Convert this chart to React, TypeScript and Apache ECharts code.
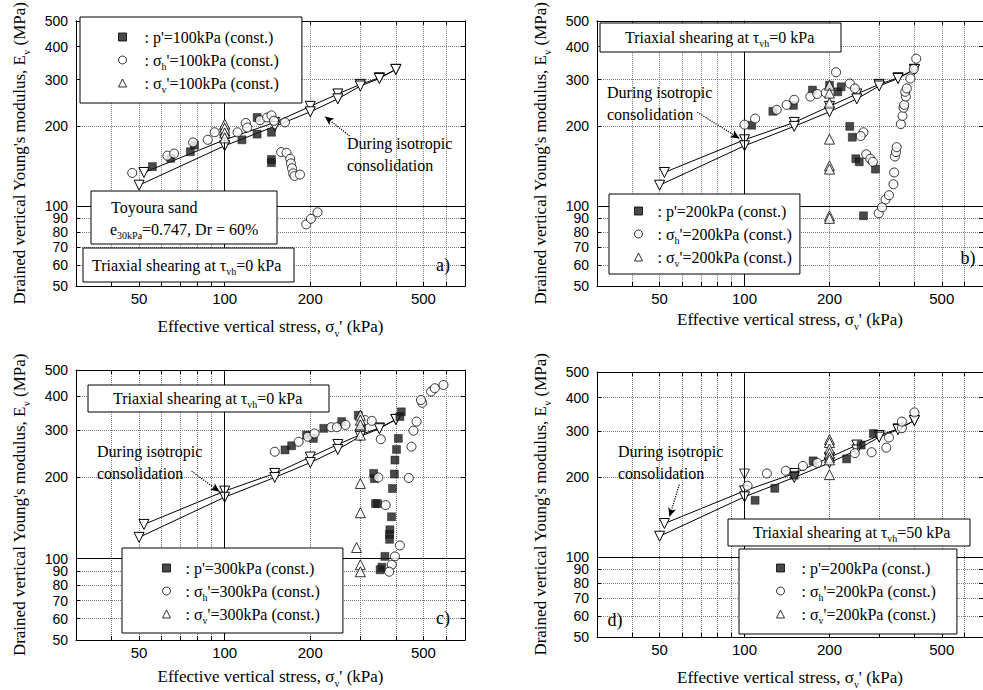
import React, { useEffect, useRef } from 'react';
import * as echarts from 'echarts';

// ---------- axis ticks ----------
const X_MIN = 30;
const X_MAX = 700;
const Y_MIN = 50;
const Y_MAX = 500;
const xTickValues = [30, 40, 50, 60, 70, 80, 90, 100, 200, 300, 400, 500, 600, 700];
const xLabelValues = [50, 100, 200, 500];
const yTickValues = [50, 60, 70, 80, 90, 100, 200, 300, 400, 500];
const yLabelValues = [50, 60, 70, 80, 90, 100, 200, 300, 400, 500];

// ---------- isotropic consolidation (same in every panel) ----------
const consolUpper = [[52, 134], [100, 178], [150, 207], [200, 238], [250, 265], [300, 288], [350, 305], [400, 328]];
const consolLower = [[50, 120], [100, 169], [150, 200], [200, 227], [250, 254], [300, 284], [350, 303], [400, 328]];

// ---------- panel a (100 kPa) ----------
const aSquares = [[55.7, 141], [64.6, 151.5], [75.7, 160.5], [78.3, 170], [115, 178], [130, 187], [130, 216], [146, 190], [146, 150], [146, 146]];
const aCircles = [[47.3, 133.5], [62.9, 155], [66.4, 158], [77.4, 174], [87.2, 178], [92.2, 190], [100, 195], [111, 190], [118.6, 206], [120, 198], [133, 211], [141, 216], [146, 220], [149, 210], [163, 207], [158, 160], [165, 159], [170, 151], [171, 145], [172.5, 139], [174, 133], [176, 130], [184, 131.6], [193.5, 85.4], [201, 89.6], [212, 94.8]];
const aTriangles = [[100, 204], [100, 197], [100, 189], [100, 181]];

// ---------- panel b (200 kPa, tau=0) ----------
const bSquares = [[106, 202], [126, 228], [149, 240], [174, 274], [200, 286], [214, 270], [220, 282], [236, 200], [241, 182], [248, 151], [255, 147], [291, 138], [264, 92]];
const bCircles = [[100, 203], [109, 214], [130, 231], [141, 241], [150, 252], [171, 259], [181, 265], [194, 268], [211, 320], [236, 290], [246, 278], [264, 190], [258, 184], [270, 157], [279, 151], [285, 147], [299, 94], [307, 99], [316, 106], [325, 110], [337, 121], [339, 134], [341, 154], [344, 160], [346, 167], [358, 204], [363, 219], [366, 235], [368, 241], [373, 259], [371, 270], [376, 278], [387, 303], [398, 329], [406, 360]];
const bTriangles = [[200, 286], [200, 267], [200, 245], [200, 179], [200, 142], [200, 138], [200, 92], [200, 90]];

// ---------- panel c (300 kPa) ----------
const cSquares = [[163, 253], [172, 262], [194, 287], [205, 279], [223, 304], [258, 322], [295, 340], [303, 313], [418, 350], [413, 336], [408, 279], [402, 254], [397, 232], [395, 206], [389, 182], [386, 143], [381, 128], [380, 123], [380, 118], [334, 207], [336, 198], [339, 160], [345, 160], [366, 102], [357, 93], [352, 91]];
const cCircles = [[150, 249], [182, 271], [196, 283], [207, 291], [237, 307], [248, 307], [266, 313], [312, 326], [329, 324], [354, 277], [347, 200], [368, 158], [413, 112], [397, 102], [387, 95], [379, 89.5], [444, 199], [454, 260], [461, 298], [473, 322], [495, 378], [490, 387], [532, 416], [548, 428], [588, 440]];
const cTriangles = [[300, 340], [300, 326], [300, 313], [300, 287], [300, 190], [300, 148], [291, 110], [300, 95], [300, 89.5]];

// ---------- panel d (200 kPa, tau=50) ----------
const dSquares = [[109, 164], [128, 182], [150, 204], [175, 231], [230, 235], [259, 265], [286, 293]];
const dCircles = [[102.5, 186], [120, 207], [140, 212], [161, 221], [181, 227], [246, 247], [282, 249], [318, 259], [325, 283], [361, 307], [361, 325], [400, 352]];
const dTriangles = [[200, 278], [200, 271], [200, 256], [200, 247], [200, 238], [200, 233], [200, 205]];
const dExtraDown = [[100, 206]];

// ---------- arrows (data coords: tail, head) ----------
const arrowA = [[275, 184], [225, 218]];
const arrowB = [[68, 226], [96, 180]];
const arrowC = [[76.5, 211], [96, 177]];
const arrowD = [[58.7, 188], [54.2, 142]];

const SERIF = 'Liberation Serif';
const SANS = 'Liberation Sans';
const SUB = { fontSize: 10, fontFamily: SERIF, color: '#000', verticalAlign: 'bottom', lineHeight: 10 } as any;

const panels = [
  {
    key: 'a', stress: '100', grid: { left: 76, top: 14, width: 389, height: 272 }, xGap: 28,
    squares: aSquares, circles: aCircles, triangles: aTriangles, arrow: arrowA, extraDown: [] as number[][],
    legend: { left: 80, top: 17, padding: [9, 23, 9, 38], textPad: 13 },
  },
  {
    key: 'b', stress: '200', grid: { left: 597, top: 14, width: 387, height: 272 }, xGap: 21,
    squares: bSquares, circles: bCircles, triangles: bTriangles, arrow: arrowB, extraDown: [] as number[][],
    legend: { left: 609, top: 194, padding: [6, 8, 6, 25], textPad: 10 },
  },
  {
    key: 'c', stress: '300', grid: { left: 76, top: 370, width: 389, height: 270 }, xGap: 24,
    squares: cSquares, circles: cCircles, triangles: cTriangles, arrow: arrowC, extraDown: [] as number[][],
    legend: { left: 122, top: 548, padding: [9, 23, 8, 40], textPad: 10 },
  },
  {
    key: 'd', stress: '200', grid: { left: 597, top: 372, width: 387, height: 271 }, xGap: 28,
    squares: dSquares, circles: dCircles, triangles: dTriangles, arrow: arrowD, extraDown: dExtraDown,
    legend: { left: 739, top: 549, padding: [8, 21, 9, 37], textPad: 12 },
  },
];

const legendLabels: Record<string, string> = {};
panels.forEach((p) => {
  legendLabels[p.key + '-p'] = ": p'=" + p.stress + 'kPa (const.)';
  legendLabels[p.key + '-h'] = ': σ{sub|h}\'=' + p.stress + 'kPa (const.)';
  legendLabels[p.key + '-v'] = ': σ{sub|v}\'=' + p.stress + 'kPa (const.)';
});

function buildOption() {
  const grid: any[] = [];
  const xAxis: any[] = [];
  const yAxis: any[] = [];
  const series: any[] = [];
  const legend: any[] = [];

  panels.forEach((p, i) => {
    grid.push({ ...p.grid, containLabel: false });
    const tickStyle = { color: '#000', width: 1 };
    xAxis.push({
      gridIndex: i, type: 'log', logBase: 10, min: X_MIN, max: X_MAX, position: 'bottom',
      axisLine: { show: true, lineStyle: { color: '#000', width: 1 } },
      axisTick: { show: true, inside: true, length: 4, customValues: xTickValues, lineStyle: tickStyle },
      axisLabel: { customValues: xLabelValues, fontFamily: SANS, fontSize: 15, color: '#000', margin: 5 },
      splitLine: { show: true, lineStyle: { type: 'dotted', color: '#7a7a7a', width: 1 } },
      name: 'Effective vertical stress, σ{sub|v}\' (kPa)', nameLocation: 'middle', nameGap: p.xGap,
      nameTextStyle: { fontFamily: SERIF, fontSize: 17, color: '#000', lineHeight: 24, rich: { sub: SUB } },
    });
    xAxis.push({
      gridIndex: i, type: 'log', logBase: 10, min: X_MIN, max: X_MAX, position: 'top',
      axisLine: { show: true, lineStyle: { color: '#000', width: 1 } },
      axisTick: { show: true, inside: true, length: 4, customValues: xTickValues, lineStyle: tickStyle },
      axisLabel: { show: false }, splitLine: { show: false },
    });
    yAxis.push({
      gridIndex: i, type: 'log', logBase: 10, min: Y_MIN, max: Y_MAX, position: 'left',
      axisLine: { show: true, lineStyle: { color: '#000', width: 1 } },
      axisTick: { show: true, inside: true, length: 4, customValues: yTickValues, lineStyle: tickStyle },
      axisLabel: { customValues: yLabelValues, fontFamily: SANS, fontSize: 14, color: '#000', margin: 8 },
      splitLine: { show: true, lineStyle: { type: 'dotted', color: '#7a7a7a', width: 1 } },
      name: "Drained vertical Young's modulus, E{sub|v} (MPa)", nameLocation: 'middle', nameGap: 45,
      nameTextStyle: { fontFamily: SERIF, fontSize: 17, color: '#000', lineHeight: 24, rich: { sub: SUB } },
    });
    yAxis.push({
      gridIndex: i, type: 'log', logBase: 10, min: Y_MIN, max: Y_MAX, position: 'right',
      axisLine: { show: true, lineStyle: { color: '#000', width: 1 } },
      axisTick: { show: true, inside: true, length: 4, customValues: yTickValues, lineStyle: tickStyle },
      axisLabel: { show: false }, splitLine: { show: false },
    });
    const xi = 2 * i;
    const yi = 2 * i;
    const downTri = {
      symbol: 'triangle', symbolRotate: 180, symbolSize: 10,
      itemStyle: { color: '#fff', borderColor: '#000', borderWidth: 1 },
    };
    series.push({
      name: p.key + '-consU', type: 'line', xAxisIndex: xi, yAxisIndex: yi, data: consolUpper,
      ...downTri, lineStyle: { color: '#000', width: 1 }, z: 3,
      markLine: {
        silent: true, symbol: 'none', animation: false, label: { show: false },
        data: [
          { xAxis: 100, lineStyle: { color: '#000', width: 1, type: 'solid' } },
          { yAxis: 100, lineStyle: { color: '#000', width: 1, type: 'solid' } },
          [
            { coord: p.arrow[0], symbol: 'none', lineStyle: { color: '#000', width: 1.2, type: 'dotted' } },
            { coord: p.arrow[1], symbol: 'arrow', symbolSize: [6, 9] },
          ],
        ],
      },
    });
    series.push({
      name: p.key + '-consL', type: 'line', xAxisIndex: xi, yAxisIndex: yi, data: consolLower,
      ...downTri, lineStyle: { color: '#000', width: 1 }, z: 3,
    });
    if (p.extraDown.length) {
      series.push({ name: p.key + '-extra', type: 'scatter', xAxisIndex: xi, yAxisIndex: yi, data: p.extraDown, ...downTri, z: 4 });
    }
    series.push({
      name: p.key + '-p', type: 'scatter', xAxisIndex: xi, yAxisIndex: yi, data: p.squares,
      symbol: 'rect', symbolSize: 8, itemStyle: { color: '#1c1c1c', borderColor: '#000', borderWidth: 0.5 }, z: 5,
    });
    series.push({
      name: p.key + '-h', type: 'scatter', xAxisIndex: xi, yAxisIndex: yi, data: p.circles,
      symbol: 'circle', symbolSize: 9, itemStyle: { color: '#fff', borderColor: '#000', borderWidth: 1 }, z: 5,
    });
    series.push({
      name: p.key + '-v', type: 'scatter', xAxisIndex: xi, yAxisIndex: yi, data: p.triangles,
      symbol: 'triangle', symbolSize: 10, itemStyle: { color: '#fff', borderColor: '#000', borderWidth: 1 }, z: 5,
    });
    legend.push({
      data: [p.key + '-p', p.key + '-h', p.key + '-v'],
      orient: 'vertical', left: p.legend.left, top: p.legend.top, padding: p.legend.padding,
      itemGap: 1, itemWidth: 8, itemHeight: 8, selectedMode: false,
      backgroundColor: '#fff', borderColor: '#000', borderWidth: 1,
      itemStyle: { borderWidth: 1 },
      formatter: (name: string) => legendLabels[name],
      textStyle: {
        fontFamily: SERIF, fontSize: 16, color: '#000', lineHeight: 22, padding: [0, 0, 0, p.legend.textPad],
        rich: { sub: SUB },
      },
      z: 20,
    });
  });

  const txt = (x: number, y: number, text: string, extra: any = {}) => ({
    type: 'text', x, y, z: 60,
    style: {
      text, fontFamily: SERIF, fontSize: 16, fill: '#000', align: 'left', verticalAlign: 'middle',
      lineHeight: 22, rich: { sub: SUB }, ...extra,
    },
  });
  const box = (x: number, y: number, w: number, h: number) => ({
    type: 'rect', z: 55, shape: { x, y, width: w, height: h },
    style: { fill: '#fff', stroke: '#000', lineWidth: 1 },
  });

  const graphic = [
    // panel a
    box(91, 191, 186, 53),
    txt(111, 207, 'Toyoura sand'),
    txt(110, 229, 'e{sub|30kPa}=0.747, Dr = 60%'),
    box(83, 248, 211, 34),
    txt(92, 265, 'Triaxial shearing at τ{sub|vh}=0 kPa'),
    txt(443, 265, 'a)', { align: 'center', fontSize: 18 }),
    txt(347, 143, 'During isotropic'),
    txt(347, 165, 'consolidation'),
    // panel b
    box(600, 23, 241, 29),
    txt(625, 37, 'Triaxial shearing at τ{sub|vh}=0 kPa'),
    txt(607, 92, 'During isotropic'),
    txt(607, 114, 'consolidation'),
    txt(968, 258, 'b)', { align: 'center', fontSize: 18 }),
    // panel c
    box(88, 385, 241, 27),
    txt(113, 398, 'Triaxial shearing at τ{sub|vh}=0 kPa'),
    txt(97, 451, 'During isotropic'),
    txt(97, 473, 'consolidation'),
    txt(443, 618, 'c)', { align: 'center', fontSize: 18 }),
    // panel d
    box(728, 519, 242, 27),
    txt(753, 532, 'Triaxial shearing at τ{sub|vh}=50 kPa'),
    txt(618, 451, 'During isotropic'),
    txt(618, 473, 'consolidation'),
    txt(615, 620, 'd)', { align: 'center', fontSize: 18 }),
  ];

  return {
    animation: false,
    backgroundColor: '#fff',
    grid, xAxis, yAxis, series, legend,
    graphic: { elements: graphic },
  };
}

export default function App() {
  const ref = useRef<HTMLDivElement>(null);
  useEffect(() => {
    if (!ref.current) return;
    const chart = echarts.init(ref.current, undefined, { renderer: 'svg' });
    chart.setOption(buildOption() as any);
    return () => chart.dispose();
  }, []);
  return (
    <div
      ref={ref}
      style={{ position: 'fixed', left: 0, top: 0, width: 983, height: 690, background: '#fff' }}
    />
  );
}
